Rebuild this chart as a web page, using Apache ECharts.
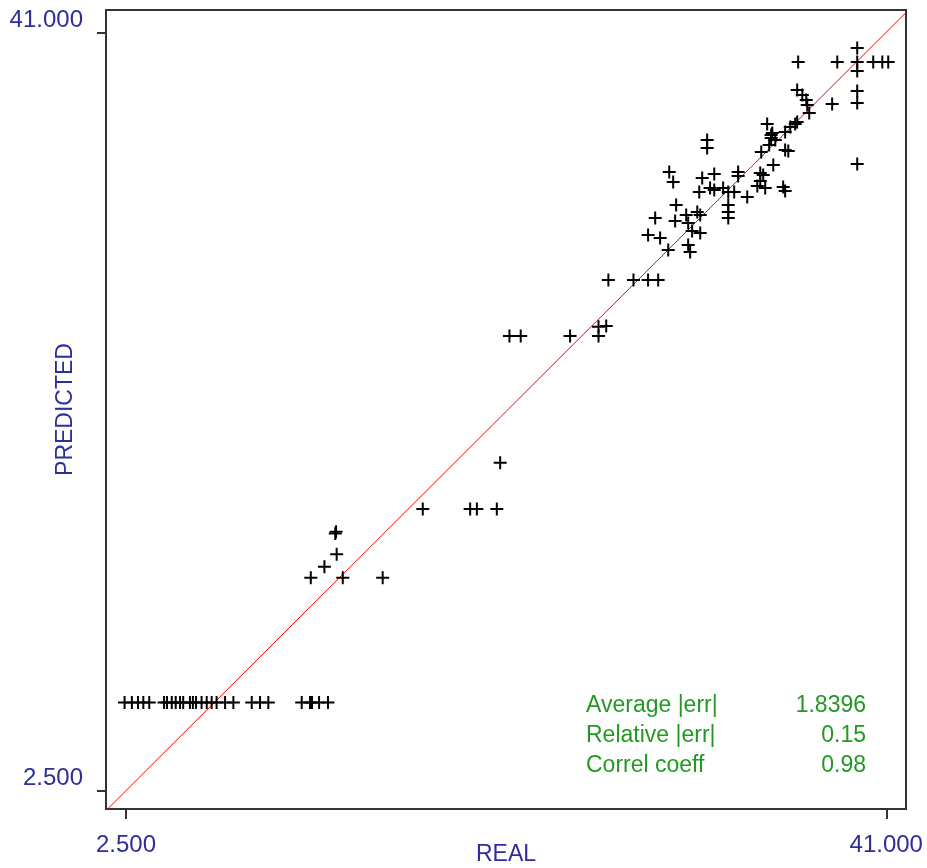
<!DOCTYPE html>
<html>
<head>
<meta charset="utf-8">
<script src="https://cdn.jsdelivr.net/npm/echarts@6/dist/echarts.min.js"></script>
<style>
  html, body { margin: 0; padding: 0; background: #ffffff; }
  #chart { width: 927px; height: 868px; }
</style>
</head>
<body>
<div id="chart"></div>
<script>
// Real vs predicted values, grouped by band of the response
const realLow = [2.43, 2.80, 3.11, 3.38, 3.68, 4.43, 4.58, 4.82, 5.02, 5.24, 5.40, 5.74, 5.89, 6.05,
                 6.33, 6.59, 6.84, 7.09, 7.52, 7.94, 8.87, 9.29, 9.71, 11.40, 11.82, 11.92, 12.28, 12.73];
const predLow = [6.97, 6.97, 6.97, 6.97, 6.97, 6.97, 6.97, 6.97, 6.97, 6.97, 6.97, 6.97, 6.97, 6.97,
                 6.97, 6.97, 6.97, 6.97, 6.97, 6.97, 6.97, 6.97, 6.97, 6.97, 6.97, 6.97, 6.97, 6.97];

const realMid = [11.86, 13.48, 15.50, 12.55, 13.17, 13.14, 13.10, 17.53, 19.93, 20.27, 21.28, 21.45,
                 21.92, 22.49, 24.99, 26.43, 26.43, 26.82, 26.93, 28.20, 28.94, 29.45];
const predMid = [13.31, 13.31, 13.31, 13.87, 14.50, 15.65, 15.55, 16.80, 16.80, 16.80, 16.80, 19.15,
                 25.58, 25.58, 25.58, 25.58, 26.05, 26.09, 28.42, 28.42, 28.42, 28.42];

const realHigh = [30.01, 30.21, 31.93, 31.93, 32.29, 31.68, 31.53, 32.08, 32.29, 33.50, 33.50, 33.00,
                  33.30, 33.96, 33.00, 33.00, 33.00, 30.36, 30.31, 29.30, 30.87, 31.43, 31.58, 28.94,
                  29.55, 31.17, 31.58, 30.97, 29.96, 30.97, 31.07, 34.47, 34.87, 34.62, 34.77, 34.62,
                  35.28, 34.67, 35.17, 35.38, 35.88, 35.88, 35.78, 35.88, 34.97, 35.23, 35.17, 36.14,
                  36.39, 36.49, 35.07, 36.04, 32.74];
const predHigh = [33.91, 33.40, 35.53, 35.12, 33.80, 33.60, 32.89, 33.09, 32.99, 33.91, 33.70, 32.89,
                  32.89, 32.64, 32.23, 31.88, 31.57, 32.23, 31.42, 31.57, 31.72, 31.88, 31.72, 30.71,
                  30.56, 30.91, 30.81, 31.32, 29.95, 30.20, 29.85, 33.20, 33.09, 33.86, 33.75, 33.45,
                  34.26, 34.92, 35.78, 35.53, 35.94, 35.02, 33.14, 32.94, 36.34, 35.89, 35.63, 36.19,
                  36.34, 36.44, 35.28, 34.97, 33.09];

const realTop = [36.54, 38.52, 39.53, 39.53, 40.34, 40.80, 41.10, 39.53, 39.53, 39.53, 39.53,
                 36.49, 36.75, 36.95, 37.00, 37.10, 38.26];
const predTop = [39.49, 39.49, 40.20, 39.49, 39.49, 39.49, 39.49, 39.03, 38.02, 37.41, 34.31,
                 38.07, 37.81, 37.56, 37.31, 36.90, 37.36];

// Axis ticks, identity line ends and summary statistics
const tickValues = [2.5, 41];
const identityLine = [[1.57, 1.57], [42.0, 42.0]];
const statNames = ['Average |err|', 'Relative |err|', 'Correl coeff'];
const statValues = ['1.8396', '0.15', '0.98'];

function pairs(xs, ys) { return xs.map((x, i) => [x, ys[i]]); }

const points = []
  .concat(pairs(realLow, predLow))
  .concat(pairs(realMid, predMid))
  .concat(pairs(realHigh, predHigh))
  .concat(pairs(realTop, predTop));

const FONT = '"Liberation Sans", Arial, sans-serif';
const BLUE = '#2e2e9a';
const GREEN = '#229922';
const PLUS = 'path://M0,5.5h13v2h-13z M5.5,0h2v13h-2z';

const chart = echarts.init(document.getElementById('chart'), null, { renderer: 'canvas' });

const statGraphics = [];
statNames.forEach((name, i) => {
  statGraphics.push({
    type: 'text', x: 586, y: 706 + i * 30,
    style: { text: name, fill: GREEN, font: '23px ' + FONT, align: 'left', verticalAlign: 'middle' }
  });
  statGraphics.push({
    type: 'text', x: 866, y: 706 + i * 30,
    style: { text: statValues[i], fill: GREEN, font: '23px ' + FONT, align: 'right', verticalAlign: 'middle' }
  });
});

const axisCommon = {
  type: 'value',
  nameLocation: 'middle',
  nameMoveOverlap: false,
  nameTextStyle: { color: BLUE, fontSize: 23, fontFamily: FONT },
  axisLine: { show: true, onZero: false, lineStyle: { color: '#333333', width: 2 } },
  splitLine: { show: false },
  minorTick: { show: false }
};

chart.setOption({
  animation: false,
  backgroundColor: '#ffffff',
  grid: {
    left: 106, top: 10, right: 21, bottom: 59,
    outerBoundsMode: 'none', containLabel: false,
    show: true, borderColor: '#333333', borderWidth: 2, backgroundColor: 'transparent'
  },
  xAxis: Object.assign({}, axisCommon, {
    name: 'REAL',
    nameGap: 34,
    min: 1.49, max: 42.0,
    axisTick: { show: true, length: 10, customValues: tickValues, lineStyle: { color: '#333333', width: 2 } },
    axisLabel: {
      customValues: tickValues, margin: 24,
      color: BLUE, fontSize: 24, fontFamily: FONT,
      formatter: v => v.toFixed(3)
    }
  }),
  yAxis: Object.assign({}, axisCommon, {
    name: 'PREDICTED',
    nameGap: 29,
    min: 1.57, max: 42.13,
    axisTick: { show: true, length: 9, customValues: tickValues, lineStyle: { color: '#333333', width: 2 } },
    axisLabel: {
      customValues: tickValues, margin: 23, verticalAlign: 'bottom',
      color: BLUE, fontSize: 24, fontFamily: FONT,
      formatter: v => v.toFixed(3)
    }
  }),
  series: [
    {
      type: 'line',
      data: identityLine,
      symbol: 'none',
      showSymbol: false,
      color: '#ff0000',
      lineStyle: { color: '#ff0000', width: 1 },
      emphasis: { disabled: true },
      z: 1
    },
    {
      type: 'scatter',
      data: points,
      symbol: PLUS,
      symbolSize: 13,
      itemStyle: { color: '#000000', opacity: 1 },
      emphasis: { disabled: true },
      z: 2
    }
  ],
  graphic: statGraphics
});
</script>
</body>
</html>
